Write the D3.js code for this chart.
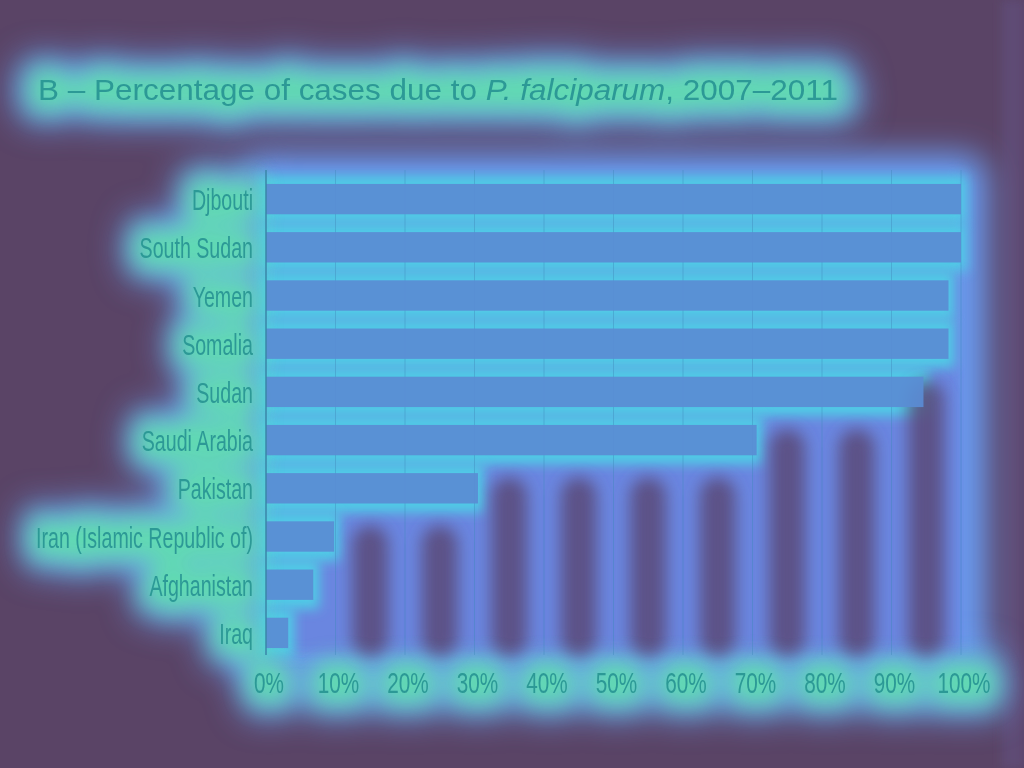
<!DOCTYPE html>
<html><head><meta charset="utf-8">
<script src="https://cdn.jsdelivr.net/npm/d3@7"></script>
<style>html,body{margin:0;padding:0;background:#5a4466;}svg{display:block;}</style>
</head><body>
<script>
// ---- data ----
const countries = ["Djbouti","South Sudan","Yemen","Somalia","Sudan","Saudi Arabia","Pakistan","Iran (Islamic Republic of)","Afghanistan","Iraq"];
const pctFalciparum = [100,100,98.2,98.2,94.6,70.6,30.5,9.8,6.8,3.2];
const xTicks = [0,10,20,30,40,50,60,70,80,90,100];
const xTickLabels = ["0%","10%","20%","30%","40%","50%","60%","70%","80%","90%","100%"];
const titlePlain = "B – Percentage of cases due to ";
const titleItalic = "P. falciparum";
const titleEnd = ", 2007–2011";

const W = 1024, H = 768;
const svg = d3.select("body").append("svg").attr("width", W).attr("height", H);
const defs = svg.append("defs");
[4,6,8,10,12,16,18].forEach(s => {
  defs.append("filter").attr("id","b"+s).attr("x","-50%").attr("y","-50%").attr("width","200%").attr("height","200%")
    .append("feGaussianBlur").attr("stdDeviation", s);
});

const x = d3.scaleLinear().domain([0,100]).range([266, 961]);
const y = d3.scaleBand().domain(countries).range([175, 657]).paddingInner(0.37).paddingOuter(0.185);
const yTop = 170, yBot = 655;
const labelFont = "'Liberation Sans',Arial,sans-serif";
const textColor = "#2c9996";

function measure(str) {
  const t = svg.append("text").attr("font-family", labelFont).attr("font-size", 29).text(str);
  const w = t.node().getComputedTextLength(); t.remove(); return w;
}
const sxY = 217 / measure(countries[7]);
const sxX = 53 / measure(xTickLabels[10]);

svg.append("rect").attr("width", W).attr("height", H).attr("fill", "#5a4466");
svg.append("rect").attr("x", 1002).attr("width", 22).attr("height", H).attr("fill", "#5e4b74").attr("filter","url(#b4)");

// halo around the plot
svg.append("rect").attr("x", x(0) - 22).attr("y", yTop - 16).attr("width", x(100) - x(0) + 48).attr("height", yBot - yTop + 36)
  .attr("rx", 24).attr("fill", "#6a9ef4").attr("filter", "url(#b16)");

function labels(g, data, fx, fy, anchor, txt, sx) {
  return g.selectAll("g").data(data).join("g")
    .attr("transform", (d,i) => `translate(${fx(d,i)},${fy(d,i)}) scale(${sx},1)`)
    .append("text").attr("text-anchor", anchor)
    .attr("font-family", labelFont).attr("font-size", 29)
    .text((d,i) => txt(d,i));
}
function drawAllText(layer, styleFn) {
  const gy = layer.append("g");
  styleFn(labels(gy, countries, () => 253, d => y(d) + y.bandwidth()/2 + 11, "end", d => d, sxY));
  const gx = layer.append("g");
  styleFn(labels(gx, xTicks, d => x(d) + 3, () => 693, "middle", (d,i) => xTickLabels[i], sxX));
  const t = layer.append("text").attr("x", 38).attr("y", 100)
    .attr("font-family", labelFont).attr("font-size", 30)
    .attr("textLength", 800).attr("lengthAdjust", "spacingAndGlyphs");
  t.append("tspan").text(titlePlain);
  t.append("tspan").attr("font-style", "italic").text(titleItalic);
  t.append("tspan").text(titleEnd);
  styleFn(t);
}
// blue glow behind text
drawAllText(svg.append("g").attr("filter","url(#b16)"), s => s.attr("fill","#6aa4f6").attr("stroke","#6aa4f6").attr("stroke-width",48).attr("stroke-linejoin","round"));
// plot background
svg.append("rect").attr("x", x(0)).attr("y", yTop).attr("width", x(100) - x(0)).attr("height", yBot - yTop)
  .attr("fill", "#6a86e0").attr("filter", "url(#b6)");
// cyan rows following the bars
svg.append("g").selectAll("rect").data(countries).join("rect")
  .attr("x", x(0) - 8).attr("y", d => y(d) - 9)
  .attr("width", (d,i) => x(pctFalciparum[i]) - x(0) + 14).attr("height", y.bandwidth() + 18)
  .attr("fill", "#50cce6").attr("filter", "url(#b6)");
// darker blobs in empty columns
svg.append("g").selectAll("rect").data(d3.range(10)).join("rect")
  .each(function(c) {
    let last = -1;
    pctFalciparum.forEach((v,i) => { if (v > c*10 + 5) last = i; });
    const top = last >= 0 ? y(countries[last]) + y.bandwidth() + 22 : yTop;
    const h = yBot + 2 - top;
    const cx = (x(c*10) + x(c*10+10)) / 2;
    d3.select(this).attr("x", cx - 18).attr("width", 36).attr("y", top)
      .attr("height", h > 50 ? h : 0).attr("rx", 18);
  })
  .attr("fill", "#5a4878").attr("opacity", 0.85).attr("filter", "url(#b8)");
// green glow behind text
drawAllText(svg.append("g").attr("filter","url(#b12)").attr("opacity",0.9), s => s.attr("fill","#60e2a8").attr("stroke","#60e2a8").attr("stroke-width",24).attr("stroke-linejoin","round"));

// gridlines
svg.append("g").selectAll("line").data(xTicks.slice(1)).join("line")
  .attr("x1", d => x(d)).attr("x2", d => x(d)).attr("y1", yTop).attr("y2", yBot)
  .attr("stroke", "#3f86b8").attr("stroke-opacity", 0.4).attr("stroke-width", 1);
// bars
svg.append("g").selectAll("rect").data(countries).join("rect")
  .attr("x", x(0)).attr("y", d => y(d))
  .attr("width", (d,i) => x(pctFalciparum[i]) - x(0)).attr("height", y.bandwidth())
  .attr("fill", "#5a8cd4").attr("opacity", 0.92);
// vertical axis
svg.append("line").attr("x1", x(0)).attr("x2", x(0)).attr("y1", yTop).attr("y2", yBot)
  .attr("stroke", "#3a86a8").attr("stroke-width", 1.5);

// text
drawAllText(svg.append("g"), s => s.attr("fill", textColor));
</script>
</body></html>
